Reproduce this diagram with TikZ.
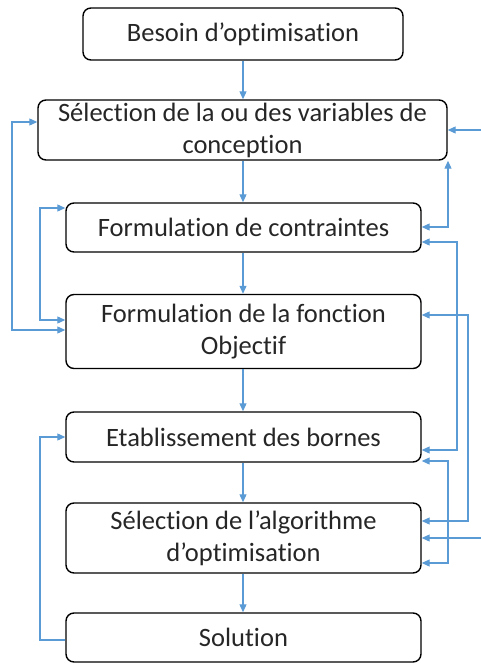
\documentclass[tikz,border=0pt]{standalone}
\usepackage{fontspec}
\setmainfont{Carlito}[Ligatures={NoCommon,NoContextual}]
\usetikzlibrary{arrows.meta,calc}
\definecolor{arr}{HTML}{5B9BD5}
\definecolor{txt}{HTML}{262626}
\begin{document}
\begin{tikzpicture}[x=1pt,y=-1pt,
  box/.style={draw=black, line width=1.4pt, rounded corners=8pt, align=center, inner sep=0pt,
    font=\fontsize{26.5}{32}\selectfont, text=txt},
  link/.style={draw=arr, line width=1.1pt, -{Triangle[length=8pt,width=7pt]}},
  both/.style={draw=arr, line width=1.1pt, {Triangle[length=8pt,width=7pt]}-{Triangle[length=8pt,width=7pt]}}]
\useasboundingbox (0,0) rectangle (481,664);
\node[box, minimum width=320pt, minimum height=52pt] (b1) at (243,34) {Besoin d’optimisation};
\node[box, minimum width=409pt, minimum height=60pt] (b2) at (242.5,130) {Sélection de la ou des variables de\\conception};
\node[box, minimum width=355pt, minimum height=49pt] (b3) at (243.5,227.5) {Formulation de contraintes};
\node[box, minimum width=355pt, minimum height=74pt] (b4) at (243.5,331.5) {Formulation de la fonction\\Objectif};
\node[box, minimum width=355pt, minimum height=50pt] (b5) at (243.5,437) {Etablissement des bornes};
\node[box, minimum width=355pt, minimum height=70pt] (b6) at (243.5,538) {Sélection de l’algorithme\\d’optimisation};
\node[box, minimum width=355pt, minimum height=49pt] (b7) at (243.5,637.5) {Solution};
% vertical arrows
\draw[link] (b1.south) -- (b1.south |- b2.north);
\draw[link] (b1.south |- b2.south) -- (b1.south |- b3.north);
\draw[link] (b1.south |- b3.south) -- (b1.south |- b4.north);
\draw[link] (b1.south |- b4.south) -- (b1.south |- b5.north);
\draw[link] (b1.south |- b5.south) -- (b1.south |- b6.north);
\draw[link] (b1.south |- b6.south) -- (b1.south |- b7.north);
% left side
\draw[both] (b4.west |- 0,330) -- (12,330) -- (12,122) -- (b2.west |- 0,122);
\draw[both] (b4.west |- 0,320) -- (40,320) -- (40,208) -- (b3.west |- 0,208);
\draw[link] (b7.west |- 0,640) -- (40,640) -- (40,437) -- (b5.west |- 0,437);
% right side
\coordinate (r1) at (481,130);
\coordinate (r2) at (481,538);
\draw[link] (r1) -- (b2.east |- r1);
\draw[both] (b3.east |- 0,227) -- (448,227) -- (b2.south east -| 448,0);
\draw[both] (b3.east |- 0,242) -- (457,242) -- (457,450) -- (b5.east |- 0,450);
\draw[both] (b4.east |- 0,315) -- (468,315) -- (468,521) -- (b6.east |- 0,521);
\draw[link] (r2) -- (b6.east |- r2);
\draw[both] (b5.east |- 0,461) -- (448,461) -- (448,563) -- (b6.east |- 0,563);
\end{tikzpicture}
\end{document}
